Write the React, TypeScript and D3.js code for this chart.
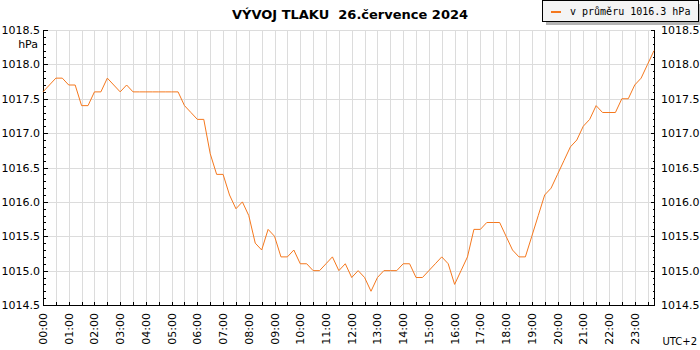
import React, { useRef, useEffect } from 'react';
import * as d3 from 'd3';

// tlak po 15 minutach, 00:00 .. 23:45
const pressure = [
  1017.6, 1017.7, 1017.8, 1017.8, 1017.7, 1017.7, 1017.4, 1017.4,
  1017.6, 1017.6, 1017.8, 1017.7, 1017.6, 1017.7, 1017.6, 1017.6,
  1017.6, 1017.6, 1017.6, 1017.6, 1017.6, 1017.6, 1017.4, 1017.3,
  1017.2, 1017.2, 1016.7, 1016.4, 1016.4, 1016.1, 1015.9, 1016.0,
  1015.8, 1015.4, 1015.3, 1015.6, 1015.5, 1015.2, 1015.2, 1015.3,
  1015.1, 1015.1, 1015.0, 1015.0, 1015.1, 1015.2, 1015.0, 1015.1,
  1014.9, 1015.0, 1014.9, 1014.7, 1014.9, 1015.0, 1015.0, 1015.0,
  1015.1, 1015.1, 1014.9, 1014.9, 1015.0, 1015.1, 1015.2, 1015.1,
  1014.8, 1015.0, 1015.2, 1015.6, 1015.6, 1015.7, 1015.7, 1015.7,
  1015.5, 1015.3, 1015.2, 1015.2, 1015.5, 1015.8, 1016.1, 1016.2,
  1016.4, 1016.6, 1016.8, 1016.9, 1017.1, 1017.2, 1017.4, 1017.3,
  1017.3, 1017.3, 1017.5, 1017.5, 1017.7, 1017.8, 1018.0, 1018.2,
];
const stepMinutes = 15;

const hourLabels = [
  '00:00', '01:00', '02:00', '03:00', '04:00', '05:00', '06:00', '07:00',
  '08:00', '09:00', '10:00', '11:00', '12:00', '13:00', '14:00', '15:00',
  '16:00', '17:00', '18:00', '19:00', '20:00', '21:00', '22:00', '23:00',
];
const yLabels = [1014.5, 1015.0, 1015.5, 1016.0, 1016.5, 1017.0, 1017.5, 1018.0, 1018.5];

const title = 'VÝVOJ TLAKU  26.července 2024';
const legendText = 'v průměru 1016.3 hPa';

const App = () => {
  const ref = useRef<SVGSVGElement>(null);

  useEffect(() => {
    if (!ref.current) return;
    const svg = d3.select(ref.current);
    svg.selectAll('*').remove();

    const W = 700;
    const H = 350;
    const left = 43;
    const right = 654;
    const top = 30;
    const bottom = 305;
    const lineColor = '#f5781e';
    const gridColor = '#dcdcdc';
    const font = '"DejaVu Sans", Verdana, sans-serif';

    svg.attr('width', W).attr('height', H);
    svg.append('rect').attr('width', W).attr('height', H).attr('fill', '#fff');

    const lastMin = (pressure.length - 1) * stepMinutes;
    const x = d3.scaleLinear().domain([0, lastMin]).range([left, right]);
    const y = d3.scaleLinear().domain([1014.5, 1018.5]).range([bottom, top]);
    const px = (v: number) => Math.round(v) + 0.5;

    // mrizka
    const grid = svg.append('g').attr('shape-rendering', 'crispEdges');
    const halfHours = d3.range(0, lastMin + 1, 30);
    grid
      .selectAll('line.v')
      .data(halfHours.slice(1))
      .enter()
      .append('line')
      .attr('x1', (d) => px(x(d)))
      .attr('x2', (d) => px(x(d)))
      .attr('y1', top)
      .attr('y2', bottom)
      .attr('stroke', gridColor);
    grid
      .selectAll('line.h')
      .data(yLabels.slice(1))
      .enter()
      .append('line')
      .attr('x1', left)
      .attr('x2', right)
      .attr('y1', (d) => px(y(d)))
      .attr('y2', (d) => px(y(d)))
      .attr('stroke', gridColor);

    // osy
    const axes = svg.append('g').attr('shape-rendering', 'crispEdges').attr('stroke', '#000');
    axes.append('line').attr('x1', px(left)).attr('x2', px(left)).attr('y1', top).attr('y2', px(bottom));
    axes.append('line').attr('x1', px(right)).attr('x2', px(right)).attr('y1', top).attr('y2', px(bottom));
    axes.append('line').attr('x1', px(left)).attr('x2', px(right)).attr('y1', px(bottom)).attr('y2', px(bottom));

    const minor = d3.range(0, 41).map((k) => 1014.5 + k * 0.1);
    const tickLen = (k: number) => (k % 5 === 0 ? 4 : 2);
    axes
      .selectAll('line.tl')
      .data(minor)
      .enter()
      .append('line')
      .attr('x1', px(left))
      .attr('x2', (d, k) => px(left) + tickLen(k))
      .attr('y1', (d) => px(y(d)))
      .attr('y2', (d) => px(y(d)));
    axes
      .selectAll('line.tr')
      .data(minor)
      .enter()
      .append('line')
      .attr('x1', px(right))
      .attr('x2', (d, k) => px(right) - tickLen(k))
      .attr('y1', (d) => px(y(d)))
      .attr('y2', (d) => px(y(d)));
    axes
      .selectAll('line.tb')
      .data(halfHours.slice(1))
      .enter()
      .append('line')
      .attr('x1', (d) => px(x(d)))
      .attr('x2', (d) => px(x(d)))
      .attr('y1', px(bottom))
      .attr('y2', px(bottom) - 4);

    // popisky os
    const labels = svg.append('g').style('font-family', font).attr('font-size', 11).attr('fill', '#000');
    labels
      .selectAll('text.l')
      .data(yLabels)
      .enter()
      .append('text')
      .attr('x', 40)
      .attr('y', (d) => y(d) + 4)
      .attr('text-anchor', 'end')
      .text((d) => d.toFixed(1));
    labels
      .selectAll('text.r')
      .data(yLabels)
      .enter()
      .append('text')
      .attr('x', 661)
      .attr('y', (d) => y(d) + 4)
      .text((d) => d.toFixed(1));
    labels.append('text').attr('x', 38).attr('y', 48).attr('text-anchor', 'end').text('hPa');
    labels
      .selectAll('text.b')
      .data(hourLabels)
      .enter()
      .append('text')
      .attr('transform', (d, k) => `translate(${x(k * 60) + 4},${bottom + 8}) rotate(-90)`)
      .attr('text-anchor', 'end')
      .text((d) => d);
    labels
      .append('text')
      .attr('x', 697)
      .attr('y', 345)
      .attr('text-anchor', 'end')
      .attr('font-size', 10)
      .text('UTC+2');

    // prubeh tlaku
    const line = d3
      .line<number>()
      .x((d, k) => x(k * stepMinutes))
      .y((d) => y(d));
    svg
      .append('path')
      .datum(pressure)
      .attr('d', line)
      .attr('fill', 'none')
      .attr('stroke', lineColor)
      .attr('stroke-width', 1);

    // nadpis
    svg
      .append('text')
      .attr('x', 350)
      .attr('y', 19)
      .attr('text-anchor', 'middle')
      .attr('font-size', 13)
      .attr('font-weight', 'bold')
      .style('font-family', font)
      .style('white-space', 'pre')
      .text(title);

    // legenda
    const lg = svg.append('g').attr('shape-rendering', 'crispEdges');
    lg.append('rect').attr('x', 546).attr('y', 4).attr('width', 160).attr('height', 21).attr('fill', '#b4b4b4');
    lg.append('rect')
      .attr('x', 542.5)
      .attr('y', 0.5)
      .attr('width', 156)
      .attr('height', 21)
      .attr('fill', '#f4f4f4')
      .attr('stroke', '#000');
    lg.append('line').attr('x1', 551).attr('x2', 561).attr('y1', 11.5).attr('y2', 11.5).attr('stroke', lineColor).attr('stroke-width', 2);
    lg.append('text')
      .attr('x', 570)
      .attr('y', 15)
      .attr('font-size', 10)
      .style('font-family', '"DejaVu Sans Mono", monospace')
      .text(legendText);
  }, []);

  return <svg ref={ref} style={{ position: 'absolute', left: 0, top: 0 }} />;
};

export default App;
